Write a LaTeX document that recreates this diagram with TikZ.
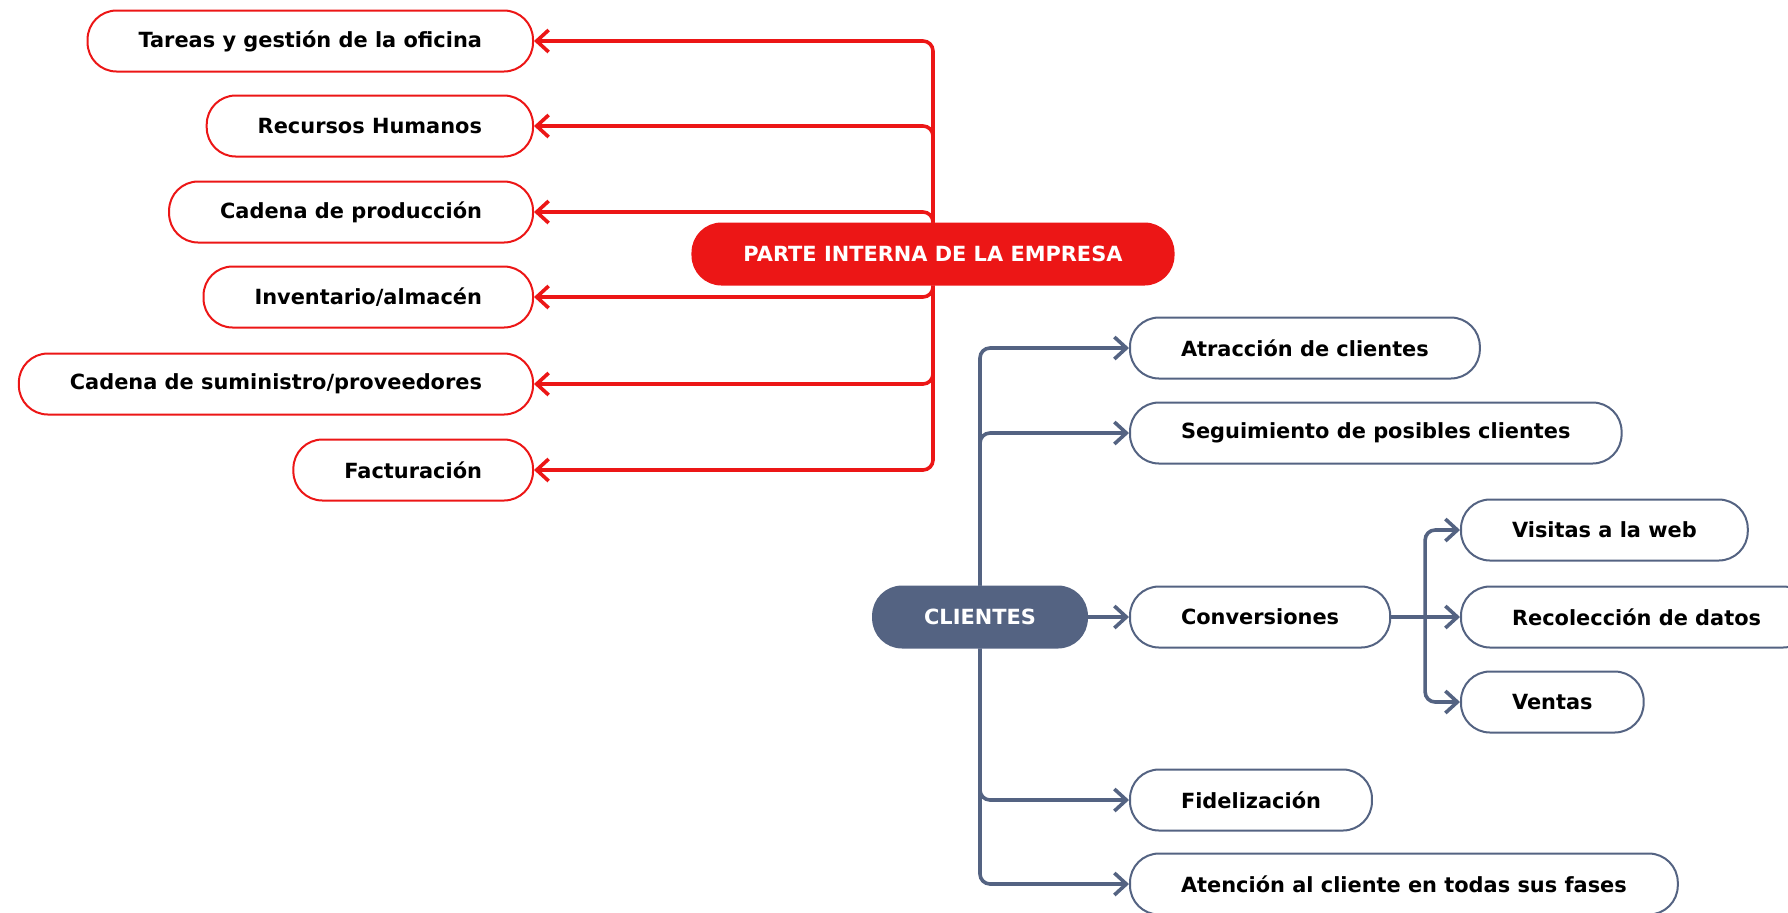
\documentclass[tikz,border=0pt]{standalone}
\usepackage{fontspec}
\setmainfont{DejaVu Sans}
\usetikzlibrary{arrows.meta}
\definecolor{empresared}{RGB}{236,22,22}
\definecolor{clientblue}{RGB}{84,99,130}

\begin{document}
\begin{tikzpicture}[x=0.5pt, y=-0.5pt,
        font=\fontsize{10.45}{12}\selectfont\bfseries,
        box/.style={draw, line width=1pt, rounded corners=14.5pt, fill=white,
            minimum height=30.5pt, inner xsep=25.5pt, inner ysep=0pt},
        redbox/.style={box, draw=empresared},
        bluebox/.style={box, draw=clientblue},
        redroot/.style={redbox, fill=empresared, text=white},
        blueroot/.style={bluebox, fill=clientblue, text=white},
        link/.style={line width=1.8pt, rounded corners=5pt,
            -{Straight Barb[length=6pt, width=11pt]}},
        redlink/.style={link, empresared},
        bluelink/.style={link, clientblue}]
        \useasboundingbox (0, 0) rectangle (1788, 912);

        % parte interna
        \node[redroot] (parte) at (933, 254) {PARTE INTERNA DE LA EMPRESA};
        \node[redbox, anchor=east] (tareas) at (534, 41) {Tareas y gestión de la oficina};
        \node[redbox, anchor=east] (recursos) at (534, 126) {Recursos Humanos};
        \node[redbox, anchor=east] (produccion) at (534, 212) {Cadena de producción};
        \node[redbox, anchor=east] (inventario) at (534, 297) {Inventario/almacén};
        \node[redbox, anchor=east] (suministro) at (534, 384) {Cadena de suministro/proveedores};
        \node[redbox, anchor=east] (facturacion) at (534, 470) {Facturación};

        \draw[redlink] (parte.north) |- (tareas.east);
        \draw[redlink] (parte.north) |- (recursos.east);
        \draw[redlink] (parte.north) |- (produccion.east);
        \draw[redlink] (parte.south) |- (inventario.east);
        \draw[redlink] (parte.south) |- (suministro.east);
        \draw[redlink] (parte.south) |- (facturacion.east);

        % clientes
        \node[blueroot] (clientes) at (980, 617) {CLIENTES};
        \node[bluebox, anchor=west] (atraccion) at (1129, 348) {Atracción de clientes};
        \node[bluebox, anchor=west] (seguimiento) at (1129, 433) {Seguimiento de posibles clientes};
        \node[bluebox, anchor=west] (conversiones) at (1129, 617) {Conversiones};
        \node[bluebox, anchor=west] (fidelizacion) at (1129, 800) {Fidelización};
        \node[bluebox, anchor=west] (atencion) at (1129, 884) {Atención al cliente en todas sus fases};
        \node[bluebox, anchor=west] (visitas) at (1460, 530) {Visitas a la web};
        \node[bluebox, anchor=west] (recoleccion) at (1460, 617) {Recolección de datos};
        \node[bluebox, anchor=west] (ventas) at (1460, 702) {Ventas};

        \draw[bluelink] (clientes.north) |- (atraccion.west);
        \draw[bluelink] (clientes.north) |- (seguimiento.west);
        \draw[bluelink] (clientes.east) -- (conversiones.west);
        \draw[bluelink] (clientes.south) |- (fidelizacion.west);
        \draw[bluelink] (clientes.south) |- (atencion.west);

        \path (conversiones.east) ++(34, 0) coordinate (split);
        \draw[bluelink] (conversiones.east) -- (recoleccion.west);
        \draw[bluelink] (split) |- (visitas.west);
        \draw[bluelink] (split) |- (ventas.west);
    \end{tikzpicture}
\end{document}
